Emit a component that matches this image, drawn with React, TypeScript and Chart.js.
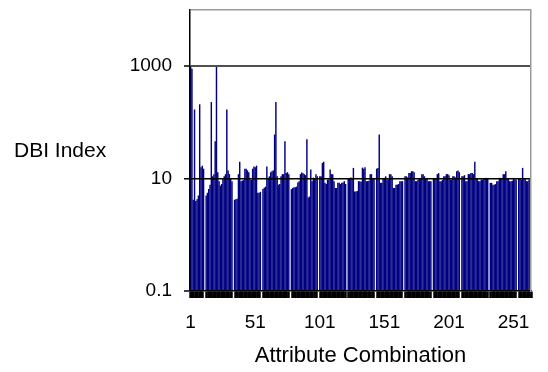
import React, { useEffect, useRef } from 'react';
import { Chart, registerables } from 'chart.js';

Chart.register(...registerables);

const categories: number[] = Array.from({ length: 264 }, (_, i) => i + 1);

const dbiValues: (number | null)[] = [
  // 1-11
  1000, 900, 4.2, 170, 4.0, 4.3, 5, 210, 16, 17, 15,
  null,
  5.0, 5.6, 6.5, 7.8, 230, 11, 12, 46, 1000, 13, 9, 7.5, 8, 10, 11, 12, 170, 14, 12, 10, 9,
  null,
  4.2, 4.3, 4.4, 12, 20, 9, 9.2, 9.5, 15, 15, 14, 13, 9.6, 9.5, 15, 16.5, 16, 17, 5.6, 5.6, 5.8,
  null,
  6.5, 6.9, 7.2, 16.5, 10.4, 11, 13, 13.5, 14, 61, 230, 11, 7.8, 8, 11, 12, 12, 46, 12.6, 13, 12,
  null,
  6.5, 6.8, 7, 7, 7.2, 8.5, 9, 12, 12.8, 12.5, 12, 11.5, 50, 4.6, 4.8, 14.5, 9, 10.4, 10, 12, 11,
  null,
  11, 11, 19, 20, 8.4, 8, 9.6, 9.6, 14.5, 12, 12, 9, 6.8, 6.8, 8.4, 8.4, 8, 8.4, 8.5, 9, 8,
  null,
  10.3, 10, 10.5, 10.3, 15.5, 5.9, 5.9, 6, 9, 9, 8.8, 15.7, 15, 16, 9, 9, 9.2, 12, 12, 10.3, 10.3,
  null,
  15, 15.5, 61, 8.4, 8.4, 10.3, 10.3, 11, 9.6, 9.6, 12, 12, 11, 6.8, 6.8, 7.8, 7.8, 8, 9, 9, 9,
  null,
  11, 11, 10.5, 12.6, 12.6, 13.5, 13.5, 13, 9, 9, 9.5, 10.3, 10.3, 12, 12, 11, 10.3, 10.3, 9, 9, 9,
  null,
  10.3, 10, 10.3, 12, 12.5, 9, 9, 9.5, 11, 11, 12, 12, 11.5, 9.6, 9.6, 11, 11, 10.5, 13.5, 14, 13,
  null,
  11, 11, 11.5, 9, 9, 12, 12, 12.6, 12.6, 12, 20, 10.3, 10.3, 9, 9, 9.6, 9.6, 10, 10.3, 10.3, 10,
  null,
  8.4, 8.4, 7.8, 7.8, 8, 9, 9, 10.3, 10.3, 10, 12, 12, 13.5, 10.3, 10, 9, 9, 9.2, 10.3, 9.6, 9.6,
  null,
  10.3, 10, 9.6, 15.5, 10.3, 10.3, 9, 9, 9.6, 9.6,
];

const xTickLabels: string[] = ['1', '51', '101', '151', '201', '251'];
const yTickValues: number[] = [0.1, 10, 1000, 10000];
const yTickLabels: string[] = ['0.1', '10', '1000', ''];
const yAxisTitle = 'DBI Index';
const xAxisTitle = 'Attribute Combination';

const FONT = '"Liberation Sans", Arial, sans-serif';

export default function App() {
  const ref = useRef<HTMLCanvasElement>(null);

  useEffect(() => {
    if (!ref.current) return;
    const yGridColors = ['rgba(0,0,0,0)', '#000000', '#505050', '#9a9a9a'];
    const yGridWidths = [0, 1.5, 2, 1.5];
    const chart = new Chart(ref.current, {
      type: 'bar',
      data: {
        labels: categories.map(String),
        datasets: [
          {
            data: dbiValues as any,
            backgroundColor: '#000080',
            borderWidth: 0,
            barPercentage: 1.12,
            categoryPercentage: 1,
            yAxisID: 'y',
          },
        ],
      },
      options: {
        animation: false,
        responsive: false,
        maintainAspectRatio: false,
        layout: { padding: { left: 0, right: 0, top: 10, bottom: 0 } },
        plugins: {
          legend: { display: false },
          tooltip: { enabled: false },
          title: { display: false },
        },
        scales: {
          x: {
            type: 'category',
            offset: true,
            grid: {
              display: true,
              drawOnChartArea: false,
              drawTicks: true,
              offset: true,
              tickLength: 7,
              tickWidth: 2.5,
              tickColor: (ctx: any) => {
                const i = ctx.index;
                if (i === undefined) return '#000';
                if (dbiValues[i] === null || (i > 0 && dbiValues[i - 1] === null)) return 'rgba(0,0,0,0)';
                return '#000';
              },
            },
            border: { display: true, color: '#000', width: 1.5, z: 1 },
            ticks: {
              autoSkip: false,
              maxRotation: 0,
              minRotation: 0,
              padding: 13,
              color: '#000',
              font: { family: FONT, size: 19 },
              callback: (_v: any, i: number) => {
                const s = String(categories[i]);
                return xTickLabels.includes(s) ? s : '';
              },
            },
            title: {
              display: true,
              text: xAxisTitle,
              color: '#000',
              font: { family: FONT, size: 22 },
              padding: { top: 0, bottom: 3 },
            },
            afterFit: (s: any) => {
              s.height = 81;
              s.paddingLeft = 0;
              s.paddingRight = 0;
            },
          } as any,
          y: {
            type: 'logarithmic',
            position: 'left',
            min: 0.1,
            max: 10000,
            afterBuildTicks: (s: any) => {
              s.ticks = yTickValues.map((v) => ({ value: v }));
            },
            ticks: {
              autoSkip: false,
              padding: 12,
              color: '#000',
              font: { family: FONT, size: 19 },
              callback: (_v: any, i: number) => yTickLabels[i],
            },
            grid: {
              z: 1,
              drawOnChartArea: true,
              drawTicks: true,
              tickLength: 6,
              tickWidth: 1.5,
              color: (ctx: any) => yGridColors[ctx.index] ?? 'rgba(0,0,0,0)',
              lineWidth: (ctx: any) => yGridWidths[ctx.index] ?? 0,
              tickColor: (ctx: any) => (ctx.index === 3 ? 'rgba(0,0,0,0)' : '#000'),
            },
            border: { display: true, color: '#000', width: 1.5, z: 1 },
            afterFit: (s: any) => {
              s.width = 190;
              s.paddingTop = 0;
              s.paddingBottom = 0;
            },
          } as any,
          y2: {
            type: 'linear',
            position: 'right',
            display: true,
            grid: { display: false, drawTicks: false },
            ticks: { display: false },
            border: { display: true, color: '#9a9a9a', width: 1.5, z: 1 },
            afterFit: (s: any) => {
              s.width = 17;
              s.paddingTop = 0;
              s.paddingBottom = 0;
            },
          } as any,
        },
      },
    });
    return () => chart.destroy();
  }, []);

  return (
    <div style={{ position: 'fixed', left: 0, top: 0, width: 548, height: 372, background: '#fff' }}>
      <canvas ref={ref} width={548} height={372} style={{ display: 'block', width: 548, height: 372 }} />
      <div
        style={{
          position: 'absolute',
          left: 14,
          top: 139,
          fontFamily: FONT,
          fontSize: 21,
          lineHeight: '22px',
          color: '#000',
          whiteSpace: 'nowrap',
        }}
      >
        {yAxisTitle}
      </div>
    </div>
  );
}
